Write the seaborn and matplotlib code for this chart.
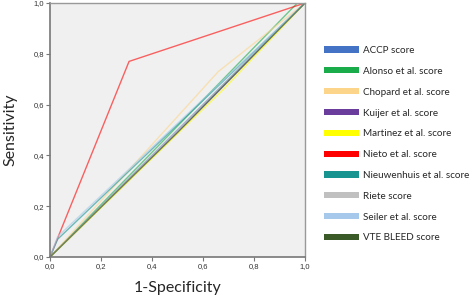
import matplotlib
matplotlib.use("Agg")
import matplotlib.pyplot as plt
import seaborn as sns
import pandas as pd
from matplotlib.patches import Patch

scores = ["ACCP score", "Alonso et al. score", "Chopard et al. score", "Kuijer et al. score",
          "Martinez et al. score", "Nieto et al. score", "Nieuwenhuis et al. score",
          "Riete score", "Seiler et al. score", "VTE BLEED score"]
colors = ["#4472c4", "#1aab4a", "#fdd58a", "#6a3c9c", "#ffff00",
          "#ff0000", "#17948f", "#c0c0c0", "#a6c8ea", "#3a5a27"]
fpr = [[0.0, 0.62, 1.0], [0.0, 0.97, 1.0], [0.0, 0.66, 1.0], [0.0, 0.55, 1.0],
       [0.0, 0.68, 1.0], [0.0, 0.31, 1.0], [0.0, 0.03, 1.0], [0.0, 0.60, 1.0],
       [0.0, 0.03, 1.0], [0.0, 0.50, 1.0]]
tpr = [[0.0, 0.62, 1.0], [0.0, 1.0, 1.0], [0.0, 0.73, 1.0], [0.0, 0.54, 1.0],
       [0.0, 0.66, 1.0], [0.0, 0.77, 1.0], [0.0, 0.07, 1.0], [0.0, 0.60, 1.0],
       [0.0, 0.08, 1.0], [0.0, 0.49, 1.0]]
ticks = [0.0, 0.2, 0.4, 0.6, 0.8, 1.0]
tick_labels = ["0,0", "0,2", "0,4", "0,6", "0,8", "1,0"]

rows = []
for s, xs, ys in zip(scores, fpr, tpr):
    for i, (x, y) in enumerate(zip(xs, ys)):
        rows.append({"score": s, "fpr": x, "tpr": y, "order": i})
df = pd.DataFrame(rows)

sns.set_style("white")
plt.rcParams["font.family"] = ["Lato", "DejaVu Sans"]

fig = plt.figure(figsize=(4.73, 2.97), dpi=100)
ax = fig.add_axes([50 / 473, 40 / 297, 255 / 473, 254 / 297])
ax.set_facecolor("#f0f0f0")

sns.lineplot(data=df, x="fpr", y="tpr", hue="score", hue_order=scores,
             palette=dict(zip(scores, colors)), sort=False, estimator=None,
             units="score", lw=1.0, alpha=0.6, legend=False, ax=ax)

ax.set_xlim(0, 1)
ax.set_ylim(0, 1)
ax.set_xticks(ticks)
ax.set_xticklabels(tick_labels, family="Liberation Sans")
ax.set_yticks(ticks)
ax.set_yticklabels(tick_labels, family="Liberation Sans")
ax.tick_params(axis="both", length=3, width=0.8, color="#777777", labelsize=5.5,
               labelcolor="#333333", pad=1, direction="out")
ax.tick_params(bottom=True, left=True)
for side in ["left", "bottom"]:
    ax.spines[side].set_color("#777777")
    ax.spines[side].set_linewidth(1.2)
for side in ["top", "right"]:
    ax.spines[side].set_color("#999999")
    ax.spines[side].set_linewidth(1.0)

ax.set_xlabel("1-Specificity", fontsize=11.5, labelpad=8)
ax.set_ylabel("Sensitivity", fontsize=11.5, labelpad=12)

handles = [Patch(facecolor=c, edgecolor="none", label=s) for s, c in zip(scores, colors)]
fig.legend(handles=handles, loc="upper left", bbox_to_anchor=(324 / 473, 1 - 46 / 297),
           frameon=False, fontsize=7.1, handlelength=3.5, handleheight=0.6,
           handletextpad=0.45, labelspacing=1.2, borderaxespad=0, borderpad=0)

fig.savefig("out.png", dpi=100)
